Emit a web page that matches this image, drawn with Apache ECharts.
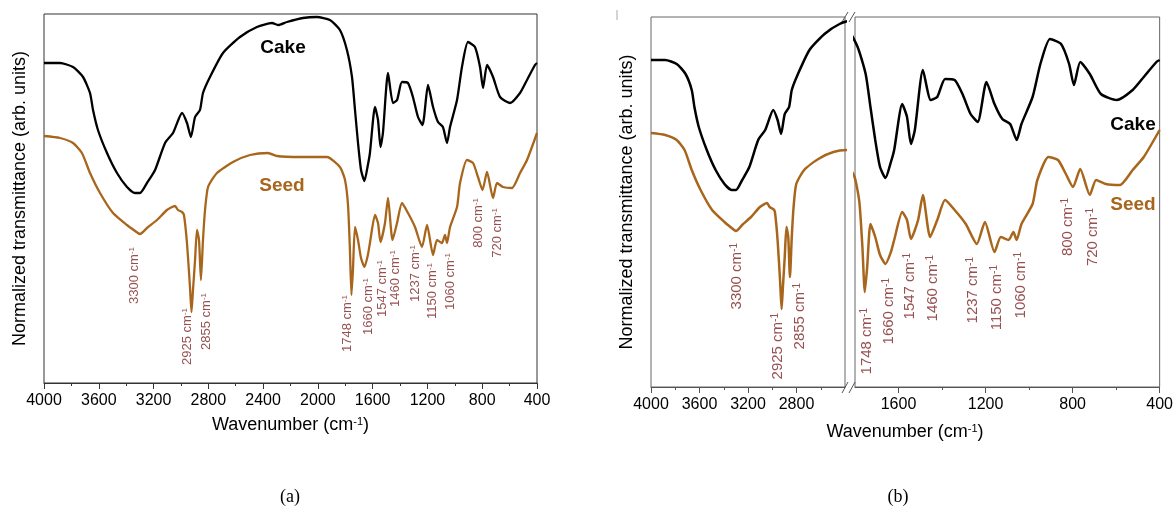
<!DOCTYPE html>
<html>
<head>
<meta charset="utf-8">
<script src="https://cdn.jsdelivr.net/npm/echarts@6/dist/echarts.min.js"></script>
<style>
  html, body { margin: 0; padding: 0; background: #fff; }
  #main { width: 1176px; height: 508px; }
</style>
</head>
<body>
<div id="main"></div>
<script>
// FTIR spectra (transmittance in arbitrary units)
var cakeWn = [4000, 3883, 3788, 3715, 3664, 3642, 3606, 3540, 3467, 3394, 3336, 3299, 3248, 3189, 3116, 3058, 2992, 2956, 2927, 2897, 2861, 2839, 2788, 2693, 2569, 2445, 2335, 2291, 2226, 2109, 2007, 1912, 1839, 1788, 1751, 1729, 1707, 1685, 1660, 1635, 1620, 1583, 1561, 1543, 1525, 1488, 1452, 1422, 1386, 1342, 1306, 1269, 1236, 1196, 1159, 1123, 1087, 1057, 1035, 984, 948, 904, 853, 816, 794, 765, 721, 670, 597, 524, 473, 415, 400];
var cakeT = [320, 320, 316, 306, 290, 273, 253, 230, 210, 196, 190, 190, 200, 213, 240, 250, 270, 260, 246, 266, 273, 290, 306, 330, 346, 356, 360, 358, 361, 365, 366, 363, 353, 333, 306, 273, 240, 213, 202, 218, 230, 276, 263, 236, 250, 310, 280, 283, 301, 300, 286, 266, 258, 298, 276, 261, 256, 240, 256, 283, 316, 341, 336, 316, 295, 318, 306, 286, 280, 290, 303, 318, 320];

var seedWn = [4000, 3883, 3788, 3723, 3664, 3591, 3496, 3394, 3314, 3299, 3248, 3175, 3102, 3043, 3022, 2992, 2978, 2956, 2934, 2923, 2912, 2897, 2883, 2868, 2854, 2839, 2824, 2802, 2737, 2620, 2496, 2364, 2299, 2131, 1934, 1839, 1802, 1780, 1766, 1755, 1744, 1729, 1707, 1685, 1660, 1635, 1620, 1583, 1561, 1543, 1510, 1488, 1455, 1422, 1386, 1342, 1291, 1240, 1203, 1159, 1130, 1094, 1072, 1057, 1035, 984, 962, 911, 867, 831, 798, 765, 721, 692, 648, 583, 524, 473, 400];
var seedT = [247, 245, 240, 230, 210, 190, 170, 158, 150, 149, 155, 163, 173, 177, 173, 171, 168, 140, 96, 71, 93, 123, 153, 143, 103, 143, 173, 196, 210, 221, 228, 230, 227, 226, 226, 216, 203, 178, 133, 88, 113, 156, 143, 125, 116, 128, 140, 168, 160, 141, 160, 185, 143, 160, 180, 170, 156, 136, 158, 128, 143, 140, 148, 140, 156, 176, 200, 223, 220, 206, 193, 211, 185, 200, 196, 195, 210, 223, 250];

// assigned bands
var peaks = [3300, 2925, 2855, 1748, 1660, 1547, 1460, 1237, 1150, 1060, 800, 720];

// tick labels
var ticksA = [4000, 3600, 3200, 2800, 2400, 2000, 1600, 1200, 800, 400];
var minorA = [3800, 3400, 3000, 2600, 2200, 1800, 1400, 1000, 600];
var ticksBL = [4000, 3600, 3200, 2800];
var minorBL = [3800, 3400, 3000, 2600];
var ticksBR = [1600, 1200, 800, 400];
var minorBR = [1400, 1000, 600];

// where the band labels sit (top end of the rotated text), in axis units
var labelPosA = [[3343, 136], [2956, 75], [2817, 90], [1787, 88], [1634, 105], [1532, 123], [1437, 133], [1291, 138], [1167, 120], [1035, 130], [831, 185], [692, 175]];
var labelPosB = [[3291, 137], [2953, 67], [2771, 97], [1745, 72], [1644, 102], [1548, 127], [1442, 125], [1258, 123], [1148, 115], [1038, 128], [822, 182], [708, 172]];

var FONT = '"Liberation Sans", Arial, sans-serif';
var CAKE = '#000000';
var SEED = '#a8661c';
var BAND = '#7d2424';

function pairs(xs, ys) {
  return xs.map(function (x, i) { return [x, ys[i]]; });
}
var cake = pairs(cakeWn, cakeT);
var seed = pairs(seedWn, seedT);

function bandData(pos, from, to) {
  var out = [];
  for (var i = from; i < to; i++) out.push([pos[i][0], pos[i][1], peaks[i]]);
  return out;
}

function mainAxis(grid, min, max, ticks, lineColor, extra) {
  var ax = {
    type: 'value', gridIndex: grid, min: min, max: max, inverse: true, position: 'bottom',
    axisLine: { show: true, onZero: false, lineStyle: { color: lineColor, width: 1 } },
    axisTick: { show: true, length: 6, customValues: ticks, lineStyle: { color: lineColor } },
    axisLabel: {
      show: true, customValues: ticks, margin: 10, color: '#000', fontSize: 16, fontFamily: FONT,
      formatter: function (v) { return String(v); }
    },
    splitLine: { show: false }
  };
  return Object.assign(ax, extra || {});
}
function minorAxis(grid, min, max, ticks, lineColor) {
  return {
    type: 'value', gridIndex: grid, min: min, max: max, inverse: true, position: 'bottom',
    axisLine: { show: false, onZero: false },
    axisTick: { show: true, length: 3, customValues: ticks, lineStyle: { color: lineColor } },
    axisLabel: { show: false },
    splitLine: { show: false }
  };
}
function yAx(grid, min, max, name) {
  return {
    type: 'value', gridIndex: grid, min: min, max: max,
    axisLine: { show: false, onZero: false }, axisTick: { show: false }, axisLabel: { show: false },
    splitLine: { show: false },
    name: name || '', nameLocation: 'middle', nameGap: 15, nameRotate: 90,
    nameTextStyle: { fontSize: 18, color: '#000', fontFamily: FONT }
  };
}
function spectrum(data, color, xi, yi, w) {
  return {
    type: 'line', data: data, xAxisIndex: xi, yAxisIndex: yi,
    showSymbol: false, smooth: 0.2, silent: true,
    lineStyle: { color: color, width: w }
  };
}
function bands(data, xi, yi, size) {
  return {
    type: 'scatter', data: data, xAxisIndex: xi, yAxisIndex: yi,
    symbolSize: 1, itemStyle: { color: 'transparent' }, silent: true,
    label: {
      show: true, position: 'inside', rotate: 90, align: 'right', verticalAlign: 'middle',
      formatter: function (p) { return '{t|' + p.value[2] + ' cm}{s|-1}'; },
      rich: {
        t: { fontSize: size, color: BAND, fontFamily: FONT },
        s: { fontSize: size - 5, color: BAND, fontFamily: FONT, verticalAlign: 'top' }
      }
    }
  };
}

var chart = echarts.init(document.getElementById('main'), null, { renderer: 'canvas' });

var option = {
  backgroundColor: '#ffffff',
  animation: false,
  grid: [
    { left: 44, top: 14, width: 493, height: 369, show: true, borderColor: '#333', borderWidth: 1 },
    { left: 651, top: 17, width: 194, height: 370, show: true, borderColor: '#666', borderWidth: 1 },
    { left: 855, top: 17, width: 305, height: 370, show: true, borderColor: '#666', borderWidth: 1 }
  ],
  xAxis: [
    mainAxis(0, 400, 4000, ticksA, '#333', {
      name: 'Wavenumber (cm{s|-1})', nameLocation: 'middle', nameGap: 33,
      nameTextStyle: {
        fontSize: 18, color: '#000', fontFamily: FONT,
        rich: { s: { fontSize: 11, color: '#000', fontFamily: FONT, verticalAlign: 'top' } }
      }
    }),
    minorAxis(0, 400, 4000, minorA, '#333'),
    mainAxis(1, 2400, 4000, ticksBL, '#555'),
    minorAxis(1, 2400, 4000, minorBL, '#555'),
    mainAxis(2, 400, 1800, ticksBR, '#555'),
    minorAxis(2, 400, 1800, minorBR, '#555')
  ],
  yAxis: [
    yAx(0, 0, 369, 'Normalized transmittance (arb. units)'),
    yAx(1, -7, 363, 'Normalized transmittance (arb. units)'),
    yAx(2, -7, 363)
  ],
  series: [
    spectrum(cake, CAKE, 0, 0, 2.3),
    spectrum(seed, SEED, 0, 0, 2.3),
    spectrum(cake, CAKE, 2, 1, 2.5),
    spectrum(seed, SEED, 2, 1, 2.5),
    spectrum(cake, CAKE, 4, 2, 2.5),
    spectrum(seed, SEED, 4, 2, 2.5),
    bands(bandData(labelPosA, 0, 12), 0, 0, 13),
    bands(bandData(labelPosB, 0, 3), 2, 1, 15),
    bands(bandData(labelPosB, 3, 12), 4, 2, 15)
  ],
  graphic: [
    { type: 'text', x: 283, y: 48, style: { text: 'Cake', fill: CAKE, font: 'bold 19px ' + FONT, align: 'center', verticalAlign: 'middle' } },
    { type: 'text', x: 282, y: 186, style: { text: 'Seed', fill: SEED, font: 'bold 19px ' + FONT, align: 'center', verticalAlign: 'middle' } },
    { type: 'text', x: 1133, y: 125, style: { text: 'Cake', fill: CAKE, font: 'bold 19px ' + FONT, align: 'center', verticalAlign: 'middle' } },
    { type: 'text', x: 1133, y: 205, style: { text: 'Seed', fill: SEED, font: 'bold 19px ' + FONT, align: 'center', verticalAlign: 'middle' } },
    {
      type: 'text', x: 905, y: 432,
      style: {
        text: 'Wavenumber (cm{s|-1})', fill: '#000', font: '18px ' + FONT, align: 'center', verticalAlign: 'middle',
        rich: { s: { fontSize: 11, fill: '#000', fontFamily: FONT, verticalAlign: 'top' } }
      }
    },
    // axis break marks
    { type: 'line', shape: { x1: 842, y1: 22, x2: 848, y2: 12 }, style: { stroke: '#555', lineWidth: 1 } },
    { type: 'line', shape: { x1: 849, y1: 22, x2: 855, y2: 12 }, style: { stroke: '#555', lineWidth: 1 } },
    { type: 'line', shape: { x1: 842, y1: 393, x2: 848, y2: 382 }, style: { stroke: '#555', lineWidth: 1 } },
    { type: 'line', shape: { x1: 849, y1: 393, x2: 855, y2: 382 }, style: { stroke: '#555', lineWidth: 1 } },
    { type: 'line', shape: { x1: 617, y1: 10, x2: 617, y2: 20 }, style: { stroke: '#aaa', lineWidth: 1 } },
    // panel captions
    { type: 'text', x: 290, y: 497, style: { text: '(a)', fill: '#000', font: '18px "Liberation Serif", "Times New Roman", serif', align: 'center', verticalAlign: 'middle' } },
    { type: 'text', x: 898, y: 497, style: { text: '(b)', fill: '#000', font: '18px "Liberation Serif", "Times New Roman", serif', align: 'center', verticalAlign: 'middle' } }
  ]
};

chart.setOption(option);
</script>
</body>
</html>
